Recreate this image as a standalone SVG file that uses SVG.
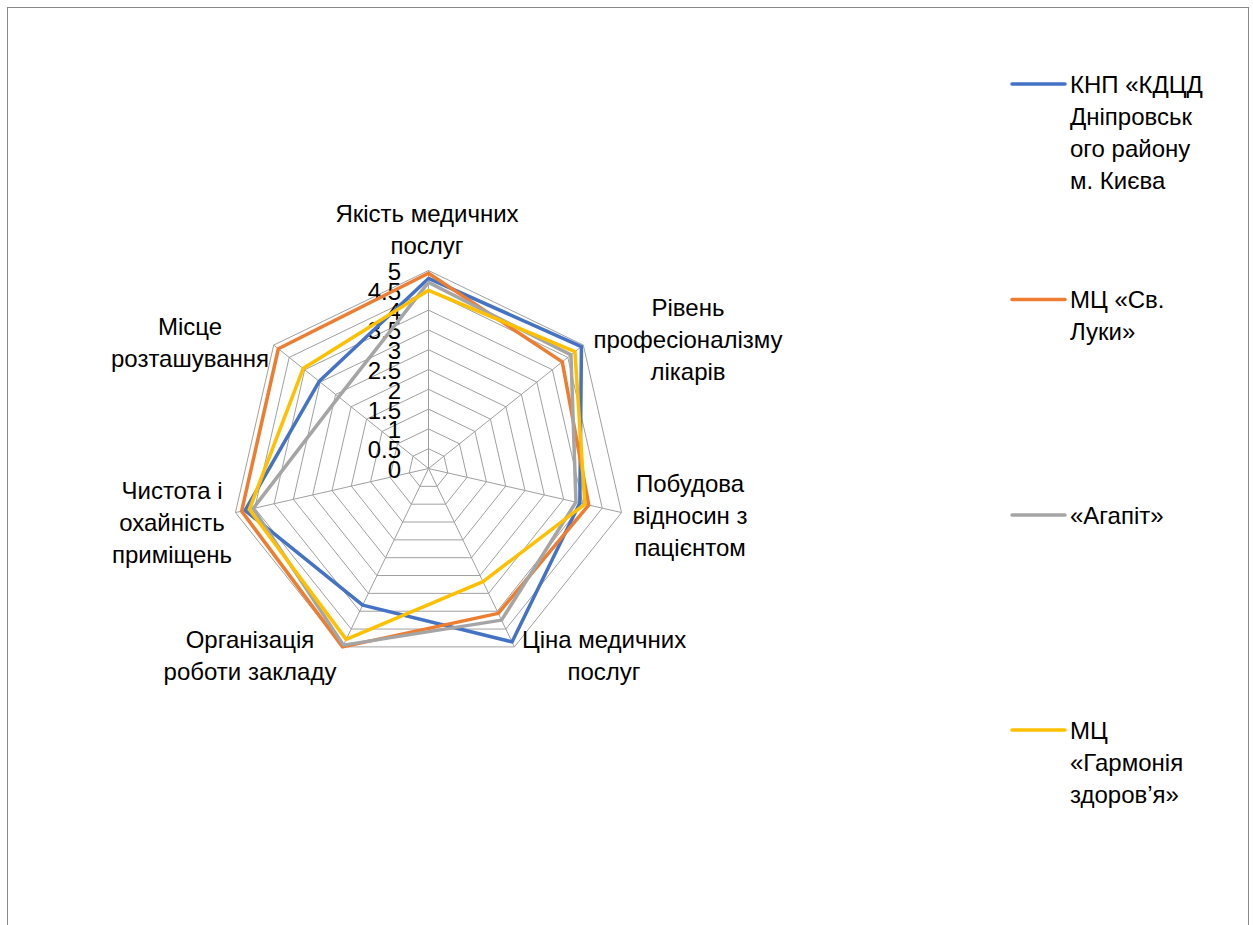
<svg xmlns="http://www.w3.org/2000/svg" width="1253" height="925" viewBox="0 0 1253 925">
<style>
text{font-family:"Liberation Sans",Arial,sans-serif;font-size:24px;fill:#000}
.ring{fill:none;stroke:#a0a0a0;stroke-width:1}
.spoke{stroke:#a0a0a0;stroke-width:1}
.s{fill:none;stroke-width:3.5;stroke-linejoin:round}
.blue{stroke:#4472C4}.orange{stroke:#ED7D31}.gray{stroke:#A5A5A5}.yellow{stroke:#FFC000}
.lg{stroke-width:3.5;stroke-linecap:round}
.tick{text-anchor:end}
.cat{text-anchor:middle}
</style>
<rect x="7.5" y="7.5" width="1241" height="940" fill="#fff" stroke="#888" stroke-width="1"/>
<g id="grid">
<polygon class="ring" points="428.5,448.7 443.98,456.16 447.80,472.91 437.09,486.34 419.91,486.34 409.20,472.91 413.02,456.16"/>
<polygon class="ring" points="428.5,428.9 459.46,443.81 467.11,477.31 445.68,504.18 411.32,504.18 389.89,477.31 397.54,443.81"/>
<polygon class="ring" points="428.5,409.1 474.94,431.47 486.41,481.72 454.27,522.02 402.73,522.02 370.59,481.72 382.06,431.47"/>
<polygon class="ring" points="428.5,389.3 490.42,419.12 505.72,486.12 462.86,539.86 394.14,539.86 351.28,486.12 366.58,419.12"/>
<polygon class="ring" points="428.5,369.5 505.90,406.78 525.02,490.53 471.46,557.70 385.55,557.70 331.98,490.53 351.10,406.78"/>
<polygon class="ring" points="428.5,349.7 521.38,394.43 544.32,494.94 480.05,575.53 376.95,575.53 312.68,494.94 335.62,394.43"/>
<polygon class="ring" points="428.5,329.9 536.86,382.09 563.63,499.34 488.64,593.37 368.36,593.37 293.37,499.34 320.14,382.09"/>
<polygon class="ring" points="428.5,310.1 552.34,369.74 582.93,503.75 497.23,611.21 359.77,611.21 274.07,503.75 304.66,369.74"/>
<polygon class="ring" points="428.5,290.3 567.82,357.40 602.24,508.15 505.82,629.05 351.18,629.05 254.76,508.15 289.18,357.40"/>
<polygon class="ring" points="428.5,270.5 583.30,345.05 621.54,512.56 514.41,646.89 342.59,646.89 235.46,512.56 273.70,345.05"/>
<line class="spoke" x1="428.5" y1="468.5" x2="428.5" y2="270.5"/>
<line class="spoke" x1="428.5" y1="468.5" x2="583.30" y2="345.05"/>
<line class="spoke" x1="428.5" y1="468.5" x2="621.54" y2="512.56"/>
<line class="spoke" x1="428.5" y1="468.5" x2="514.41" y2="646.89"/>
<line class="spoke" x1="428.5" y1="468.5" x2="342.59" y2="646.89"/>
<line class="spoke" x1="428.5" y1="468.5" x2="235.46" y2="512.56"/>
<line class="spoke" x1="428.5" y1="468.5" x2="273.70" y2="345.05"/>
</g>
<g id="ticks">
<text class="tick" x="401" y="478">0</text>
<text class="tick" x="401" y="458.2">0.5</text>
<text class="tick" x="401" y="438.4">1</text>
<text class="tick" x="401" y="418.6">1.5</text>
<text class="tick" x="401" y="398.8">2</text>
<text class="tick" x="401" y="379">2.5</text>
<text class="tick" x="401" y="359.2">3</text>
<text class="tick" x="401" y="339.4">3.5</text>
<text class="tick" x="401" y="319.6">4</text>
<text class="tick" x="401" y="299.8">4.5</text>
<text class="tick" x="401" y="280">5</text>
</g>
<g id="connectors">
<polygon id="series-blue" class="s blue" points="428.5,278.42 581.44,346.53 579.84,503.04 512.00,641.90 362.69,605.15 245.12,510.36 319.21,381.34"/>
<polygon id="series-orange" class="s orange" points="428.5,273.27 562.25,361.84 588.72,505.07 498.26,613.35 342.59,646.89 241.64,511.15 278.34,348.75"/>
<polygon id="series-gray" class="s gray" points="428.5,282.38 570.92,354.93 575.98,502.16 501.52,620.13 343.45,645.11 253.22,508.51 338.72,396.90"/>
<polygon id="series-yellow" class="s yellow" points="428.5,290.3 574.94,351.72 584.86,504.19 482.97,581.60 346.20,639.40 249.36,509.39 303.11,368.51"/>
</g>
<g id="cat-quality"><text class="cat" x="427" y="222">Якість медичних</text><text class="cat" x="427" y="254">послуг</text></g>
<g id="cat-prof"><text class="cat" x="688" y="316">Рівень</text><text class="cat" x="688" y="348">професіоналізму</text><text class="cat" x="688" y="380">лікарів</text></g>
<g id="cat-relations"><text class="cat" x="690" y="492">Побудова</text><text class="cat" x="690" y="524">відносин з</text><text class="cat" x="690" y="556">пацієнтом</text></g>
<g id="cat-price"><text class="cat" x="604" y="648">Ціна медичних</text><text class="cat" x="604" y="680">послуг</text></g>
<g id="cat-org"><text class="cat" x="250" y="648">Організація</text><text class="cat" x="250" y="680">роботи закладу</text></g>
<g id="cat-clean"><text class="cat" x="172" y="499">Чистота і</text><text class="cat" x="172" y="531">охайність</text><text class="cat" x="172" y="563">приміщень</text></g>
<g id="cat-location"><text class="cat" x="190" y="335">Місце</text><text class="cat" x="190" y="367">розташування</text></g>
<g id="legend-blue"><line class="lg blue" x1="1012" y1="84" x2="1065" y2="84"/><text x="1070" y="93">КНП «КДЦД</text><text x="1070" y="125">Дніпровськ</text><text x="1070" y="157">ого району</text><text x="1070" y="189">м. Києва</text></g>
<g id="legend-orange"><line class="lg orange" x1="1012" y1="299.5" x2="1065" y2="299.5"/><text x="1070" y="308">МЦ «Св.</text><text x="1070" y="340">Луки»</text></g>
<g id="legend-gray"><line class="lg gray" x1="1012" y1="515" x2="1065" y2="515"/><text x="1070" y="524">«Агапіт»</text></g>
<g id="legend-yellow"><line class="lg yellow" x1="1012" y1="730" x2="1065" y2="730"/><text x="1070" y="739">МЦ</text><text x="1070" y="771">«Гармонія</text><text x="1070" y="803">здоров’я»</text></g>
</svg>
